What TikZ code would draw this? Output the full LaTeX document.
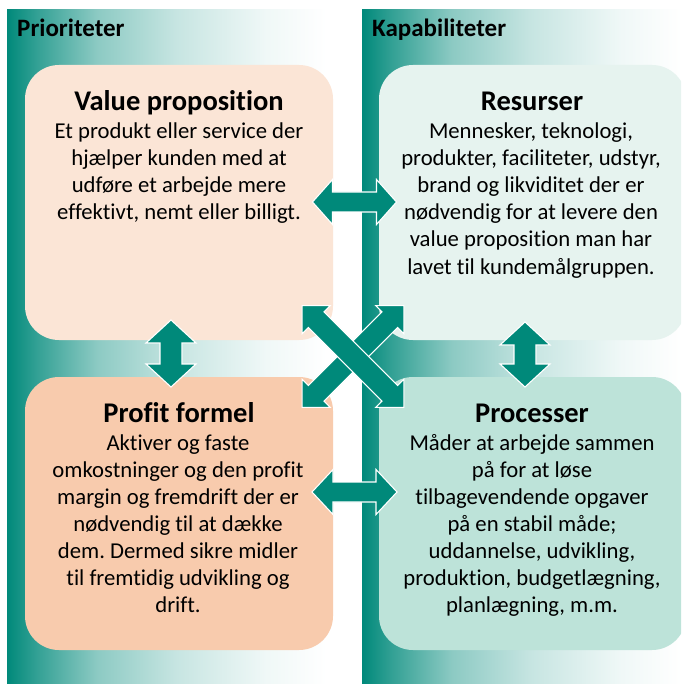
\documentclass[tikz,border=0pt]{standalone}
\usepackage{fontspec}
\setmainfont{Carlito}[Ligatures=NoCommon]
\frenchspacing

\definecolor{tealA}{HTML}{00897A}
\definecolor{vpfill}{HTML}{FBE5D6}
\definecolor{pffill}{HTML}{F8CBAD}
\definecolor{resfill}{HTML}{E6F3EF}
\definecolor{procfill}{HTML}{BDE3D9}

% teal-to-white fade across a column (middle half of the shading is the path)
\pgfdeclarehorizontalshading{colfade}{100bp}{%
  color(0bp)=(tealA); color(25bp)=(tealA);
  color(29.7bp)=(tealA!80!white); color(39.1bp)=(tealA!45!white);
  color(51.6bp)=(tealA!22!white); color(65.6bp)=(tealA!6!white);
  color(75bp)=(white); color(100bp)=(white)}

\tikzset{
  panel/.style={rounded corners=34pt, inner sep=0pt, draw=none},
  header/.style={font=\bfseries\fontsize{25}{30}\selectfont, inner sep=0pt, anchor=base west},
  boxtitle/.style={font=\bfseries\fontsize{28.5}{34}\selectfont, inner sep=0pt, anchor=base},
  bodytxt/.style={font=\fontsize{22.7}{27}\selectfont, inner sep=0pt, anchor=base, text=black},
  arrowfill/.style={fill=tealA, draw=white, line width=1.1pt, line join=miter},
}

% stack of centred body lines: name prefix, x, first baseline, lines
\newcommand\bodystack[4]{%
  \foreach \ln [count=\k from 0] in {#4}
    \node[bodytxt] (#1-\k) at (#2, #3+27*\k) {\ln};}

% block double arrow: centre coordinate name, angle, length, shaft, head width, head length
\newcommand\blockarrow[6]{%
  \begin{scope}[shift={(#1)}, rotate=#2]
    \pgfmathsetmacro\hl{#3/2}\pgfmathsetmacro\hs{#4/2}
    \pgfmathsetmacro\hw{#5/2}\pgfmathsetmacro\hb{#3/2-#6}
    \draw[arrowfill] (-\hl,0) -- (-\hb,\hw) -- (-\hb,\hs) -- (\hb,\hs) -- (\hb,\hw)
      -- (\hl,0) -- (\hb,-\hw) -- (\hb,-\hs) -- (-\hb,-\hs) -- (-\hb,-\hw) -- cycle;
  \end{scope}}

\begin{document}
\begin{tikzpicture}[x=1pt, y=-1pt]
\useasboundingbox (0,0) rectangle (681,684);
\clip (0,0) rectangle (681,684);
\fill[white] (0,0) rectangle (681,684);

% the two columns
\shade[shading=colfade] (7,10) rectangle (326,684);
\shade[shading=colfade] (362,10) rectangle (681,684);

\node[header] (prio) at (17,37) {Prioriteter};
\node[header] (kap) at (372,37) {Kapabiliteter};

% four panels
\node[panel, fill=vpfill, minimum width=308pt, minimum height=275pt] (vp) at (179,202.5) {};
\node[panel, fill=resfill, minimum width=307pt, minimum height=275pt] (res) at (532.5,202.5) {};
\node[panel, fill=pffill, minimum width=308pt, minimum height=273pt] (pf) at (179,513.5) {};
\node[panel, fill=procfill, minimum width=307pt, minimum height=273pt] (proc) at (532.5,513.5) {};

% panel texts
\node[boxtitle] (vpT) at (179,111) {Value proposition};
\bodystack{vpB}{179}{139}{Et produkt eller service der, hjælper kunden med at,
  udføre et arbejde mere, {effektivt, nemt eller billigt.}}

\node[boxtitle] (resT) at (532,111) {Resurser};
\bodystack{resB}{531}{139}{{Mennesker, teknologi,}, {produkter, faciliteter, udstyr,},
  brand og likviditet der er, nødvendig for at levere den,
  value proposition man har, lavet til kundemålgruppen.}

\node[boxtitle] (pfT) at (179,422) {Profit formel};
\bodystack{pfB}{178}{450}{Aktiver og faste, omkostninger og den profit,
  margin og fremdrift der er, nødvendig til at dække,
  dem. Dermed sikre midler, til fremtidig udvikling og, drift.}

\node[boxtitle] (procT) at (532,422) {Processer};
\bodystack{procB}{532}{450}{Måder at arbejde sammen, på for at løse,
  tilbagevendende opgaver, på en stabil måde;, {uddannelse, udvikling,},
  {produktion, budgetlægning,}, {planlægning, m.m.}}

% block arrows between the panels
\coordinate (aTop) at (354.5,202);
\coordinate (aBot) at (354.5,492);
\coordinate (aLeft) at (171,353.5);
\coordinate (aRight) at (525,354.5);
\coordinate (aX) at (353,356.5);
\blockarrow{aTop}{0}{84}{20}{45}{20}
\blockarrow{aBot}{0}{85}{20}{45}{21}
\blockarrow{aLeft}{90}{67}{22}{50}{23}
\blockarrow{aRight}{90}{65}{22}{50}{23}
% crossing pair: the top-left to bottom-right arrow (-45 here, y runs down) lies on top
\blockarrow{aX}{45}{144}{22}{40}{20}
\blockarrow{aX}{-45}{144}{22}{40}{20}
\end{tikzpicture}
\end{document}
